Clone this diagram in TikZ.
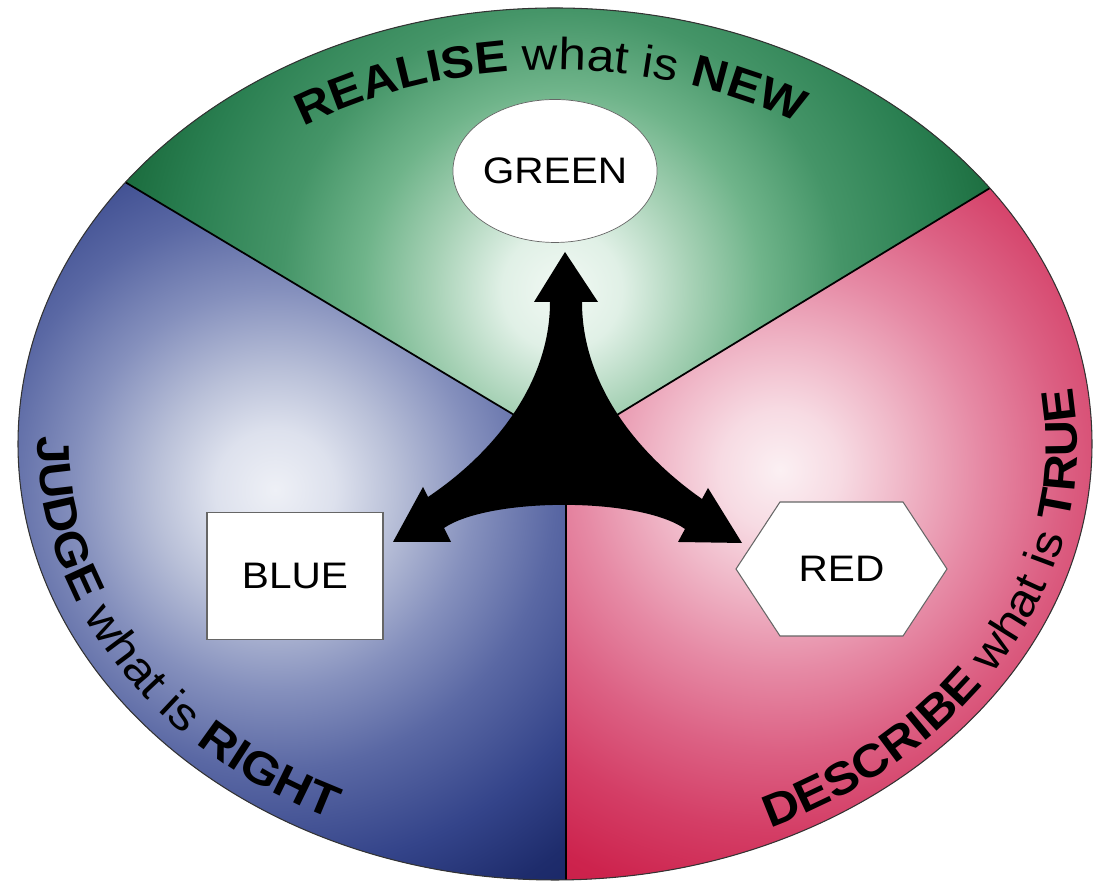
\documentclass[tikz,border=0pt]{standalone}
\usepackage{fontspec}
\setmainfont{Liberation Sans}[FakeStretch=1.1]
\usetikzlibrary{shapes.geometric,decorations.text,calc}

\definecolor{g0}{HTML}{F2F9F4}
\definecolor{g1}{HTML}{E0F0E6}
\definecolor{g2}{HTML}{A6D1B5}
\definecolor{g3}{HTML}{6FB48A}
\definecolor{g4}{HTML}{459568}
\definecolor{g5}{HTML}{2A7F51}
\definecolor{g6}{HTML}{1B6C3E}
\definecolor{g7}{HTML}{186838}

\definecolor{b0}{HTML}{EEF0F6}
\definecolor{b1}{HTML}{DDE1ED}
\definecolor{b2}{HTML}{B9C0D8}
\definecolor{b3}{HTML}{8590BD}
\definecolor{b4}{HTML}{5A68A4}
\definecolor{b5}{HTML}{34448A}
\definecolor{b6}{HTML}{1E2C6C}
\definecolor{b7}{HTML}{1A2766}

\definecolor{r0}{HTML}{FBF0F3}
\definecolor{r1}{HTML}{F7DBE3}
\definecolor{r2}{HTML}{F0B9C9}
\definecolor{r3}{HTML}{E68AA5}
\definecolor{r4}{HTML}{DC6184}
\definecolor{r5}{HTML}{D43E66}
\definecolor{r6}{HTML}{CD234D}
\definecolor{r7}{HTML}{C81D46}

\definecolor{nodeedge}{HTML}{666666}

% path radius 500 units corresponds to 25bp: 1bp = 20 units
\pgfdeclareradialshading{greenrad}{\pgfpointorigin}{color(0bp)=(g0); color(3bp)=(g1); color(6.5bp)=(g2); color(10bp)=(g3); color(14bp)=(g4); color(19bp)=(g5); color(22.5bp)=(g6); color(25bp)=(g7); color(50bp)=(g7)}
\pgfdeclareradialshading{bluerad}{\pgfpointorigin}{color(0bp)=(b0); color(3bp)=(b1); color(6bp)=(b2); color(10bp)=(b3); color(14bp)=(b4); color(19bp)=(b5); color(23bp)=(b6); color(25bp)=(b7); color(50bp)=(b7)}
\pgfdeclareradialshading{redrad}{\pgfpointorigin}{color(0bp)=(r0); color(3bp)=(r1); color(6bp)=(r2); color(10bp)=(r3); color(14bp)=(r4); color(18bp)=(r5); color(22bp)=(r6); color(25bp)=(r7); color(50bp)=(r7)}

\newcommand\topB{\fontsize{25.6pt}{30pt}\selectfont\bfseries}
\newcommand\topR{\fontsize{25.6pt}{30pt}\selectfont\mdseries}
\newcommand\sideB{\fontsize{26pt}{30pt}\selectfont\bfseries}
\newcommand\sideR{\fontsize{26pt}{30pt}\selectfont\mdseries}

\tikzset{
  divider/.style={draw=black, line width=1pt},
  rim/.style={draw=black!80, line width=0.6pt},
  labelfont/.style={font=\fontsize{21pt}{24pt}\selectfont},
  labelbox/.style={draw=nodeedge, fill=white, inner sep=0pt, labelfont},
  curvedtext/.style={decorate, decoration={text along path, text align=center, text={#1}}}
}

\begin{document}
\begin{tikzpicture}[x=0.02cm,y=0.02cm]
\useasboundingbox (0,0) rectangle (1093,884);
\coordinate (C) at (555,440);
\coordinate (O) at (566,438);
\coordinate (UL) at (-306,960);
\coordinate (UR) at (1424,960);
\coordinate (B) at (566,-100);

\begin{scope}
  \clip (C) ellipse [x radius=537, y radius=436];
  \begin{scope}
    \clip (O) -- (UL) -- (-306,1000) -- (1424,1000) -- (UR) -- cycle;
    \fill[g7] (0,0) rectangle (1093,884);
    \shade[shading=greenrad] (562,594) circle [radius=500];
  \end{scope}
  \begin{scope}
    \clip (O) -- (UL) -- (-306,-100) -- (B) -- cycle;
    \fill[b7] (0,0) rectangle (1093,884);
    \shade[shading=bluerad] (275,394) circle [radius=500];
  \end{scope}
  \begin{scope}
    \clip (O) -- (B) -- (1424,-100) -- (UR) -- cycle;
    \fill[r7] (0,0) rectangle (1093,884);
    \shade[shading=redrad] (780,414) circle [radius=500];
  \end{scope}
  \draw[divider] (O) -- (UL);
  \draw[divider] (O) -- (UR);
  \draw[divider] (O) -- (B);
\end{scope}
\draw[rim] (C) ellipse [x radius=537, y radius=436];

% curved texts
\path[curvedtext={|\topB|REALISE|\topR| what is |\topB|NEW}]
  ([shift={(555,440)}]170:475 and 374) arc[start angle=170, end angle=11.4, x radius=475, y radius=374];
\path[curvedtext={|\sideB|JUDGE|\sideR| what is |\sideB|RIGHT}]
  ([shift={(555,440)}]159:517 and 416) arc[start angle=159, end angle=261, x radius=517, y radius=416];
\path[curvedtext={|\sideB|DESCRIBE|\sideR| what is |\sideB|TRUE}]
  ([shift={(555,440)}]273:522 and 421) arc[start angle=273, end angle=393, x radius=522, y radius=421];

% nodes
\node[labelbox, ellipse, minimum width=3.68cm, minimum height=2.86cm] (green) at (555,713) {GREEN};
\node[labelbox, rectangle, minimum width=3.52cm, minimum height=2.54cm, line width=1pt] (blue) at (295,308) {BLUE};
\coordinate (redc) at (841.5,315);
\filldraw[draw=nodeedge, fill=white, line width=0.6pt]
  ($(redc)+(-61.5,67)$) -- ($(redc)+(61.5,67)$) -- ($(redc)+(105.5,0)$) --
  ($(redc)+(61.5,-67)$) -- ($(redc)+(-61.5,-67)$) -- ($(redc)+(-105.5,0)$) -- cycle;
\node[labelfont, inner sep=0pt] (red) at (redc) {RED};

% three-way arrow
\fill[black]
  (565,632) -- (598,582) -- (582,582)
  .. controls (582,504) and (632,434) .. (702,385)
  -- (708,396) -- (742,341) -- (678,342) -- (685,355)
  .. controls (640,387) and (490,387) .. (444,356)
  -- (451,342) -- (393,342) -- (423,397) -- (428,387)
  .. controls (498,434) and (550,504) .. (550,582)
  -- (534,582) -- cycle;
\end{tikzpicture}
\end{document}
